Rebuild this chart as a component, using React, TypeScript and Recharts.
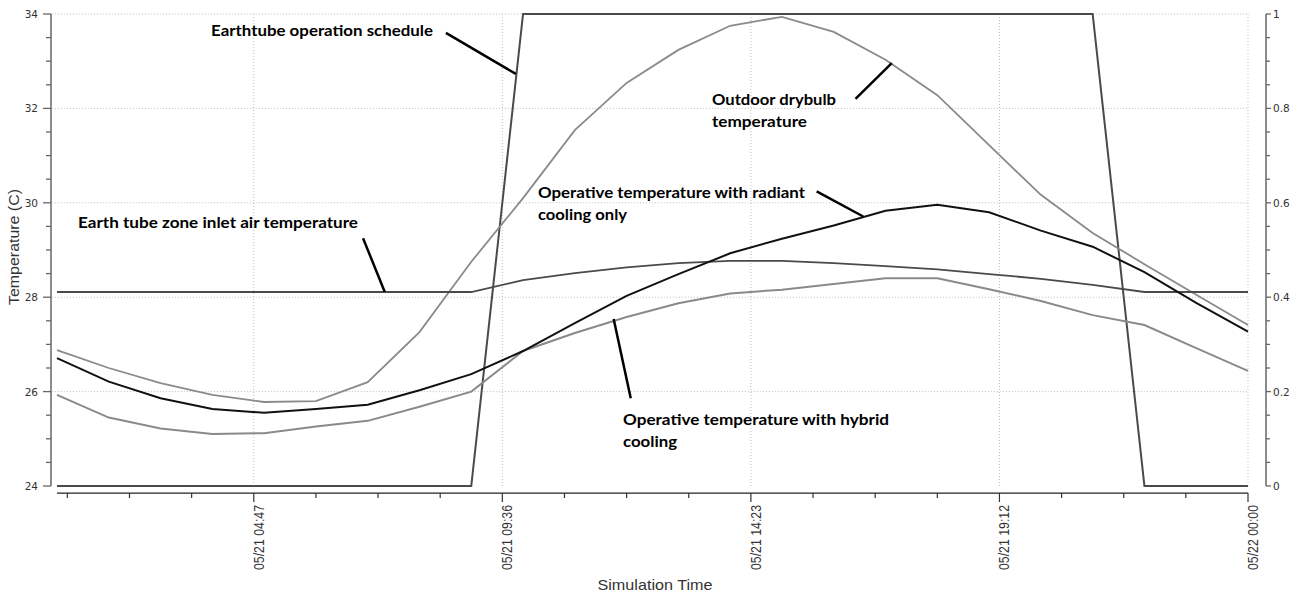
import React from "react";
import { LineChart, Line, XAxis, YAxis, ReferenceLine } from "recharts";

// hourly values, 05/21 01:00 .. 05/22 00:00
const hours = [1, 2, 3, 4, 5, 6, 7, 8, 9, 10, 11, 12, 13, 14, 15, 16, 17, 18, 19, 20, 21, 22, 23, 24];
const outdoorDrybulb = [26.88, 26.5, 26.18, 25.93, 25.78, 25.8, 26.2, 27.26, 28.75, 30.1, 31.54, 32.54, 33.24, 33.75, 33.94, 33.62, 33.03, 32.28, 31.22, 30.17, 29.36, 28.7, 28.05, 27.41];
const radiantOnly = [26.71, 26.21, 25.86, 25.63, 25.55, 25.63, 25.72, 26.03, 26.37, 26.86, 27.45, 28.03, 28.49, 28.93, 29.24, 29.52, 29.83, 29.96, 29.8, 29.41, 29.07, 28.53, 27.88, 27.27];
const hybridCooling = [25.93, 25.45, 25.22, 25.1, 25.12, 25.26, 25.38, 25.68, 26.0, 26.86, 27.24, 27.58, 27.87, 28.08, 28.16, 28.28, 28.4, 28.4, 28.17, 27.92, 27.62, 27.41, 26.92, 26.44];
const inletAir = [28.11, 28.11, 28.11, 28.11, 28.11, 28.11, 28.11, 28.11, 28.11, 28.36, 28.51, 28.63, 28.72, 28.77, 28.77, 28.72, 28.66, 28.59, 28.49, 28.39, 28.26, 28.11, 28.11, 28.11];
const earthtubeSchedule = [0, 0, 0, 0, 0, 0, 0, 0, 0, 1, 1, 1, 1, 1, 1, 1, 1, 1, 1, 1, 1, 0, 0, 0];

const xTicks = [1.2, 2.4, 3.6, 4.8, 6, 7.2, 8.4, 9.6, 10.8, 12, 13.2, 14.4, 15.6, 16.8, 18, 19.2, 20.4, 21.6, 22.8, 24];
const xMajor = [4.8, 9.6, 14.4, 19.2, 24];
const xLabels = ["05/21 04:47", "05/21 09:36", "05/21 14:23", "05/21 19:12", "05/22 00:00"];
const tempTicks = [24, 24.5, 25, 25.5, 26, 26.5, 27, 27.5, 28, 28.5, 29, 29.5, 30, 30.5, 31, 31.5, 32, 32.5, 33, 33.5, 34];
const tempMajor = [24, 26, 28, 30, 32, 34];
const schedTicks = [0, 0.05, 0.1, 0.15, 0.2, 0.25, 0.3, 0.35, 0.4, 0.45, 0.5, 0.55, 0.6, 0.65, 0.7, 0.75, 0.8, 0.85, 0.9, 0.95, 1];
const schedMajor = [0, 0.2, 0.4, 0.6, 0.8, 1];

const annotations = [
  { lines: ["Earthtube operation schedule"], widths: [222], x: 211, y: 36 },
  { lines: ["Outdoor drybulb", "temperature"], widths: [124, 95], x: 712, y: 105 },
  { lines: ["Operative temperature with radiant", "cooling only"], widths: [267, 89], x: 538, y: 198 },
  { lines: ["Earth tube zone inlet air temperature"], widths: [280], x: 78, y: 228 },
  { lines: ["Operative temperature with hybrid", "cooling"], widths: [266, 54], x: 623, y: 425 },
];
// pointer segments, in (hour, temperature)
const pointers = [
  [{ x: 8.51, y: 33.6 }, { x: 9.86, y: 32.73 }],
  [{ x: 16.42, y: 32.2 }, { x: 17.12, y: 32.96 }],
  [{ x: 15.67, y: 30.24 }, { x: 16.57, y: 29.71 }],
  [{ x: 6.91, y: 29.25 }, { x: 7.33, y: 28.11 }],
  [{ x: 11.75, y: 27.54 }, { x: 12.08, y: 25.86 }],
];
const AXIS_Y = 23.85;

const data = hours.map((h, i) => ({
  h,
  outdoor: outdoorDrybulb[i],
  radiant: radiantOnly[i],
  hybrid: hybridCooling[i],
  inlet: inletAir[i],
  schedule: earthtubeSchedule[i],
}));

const near = (a: number, b: number) => Math.abs(a - b) < 1e-6;
const tickFont = "'DejaVu Sans', sans-serif";
const axisFont = "'Liberation Sans Narrow', 'Arial Narrow', 'Liberation Sans', Arial, sans-serif";

const LeftTick = ({ x, y, payload }: any) => {
  const major = tempMajor.some((v) => near(v, payload.value));
  return (
    <g>
      <line x1={x} x2={x - (major ? 8 : 5)} y1={y} y2={y} stroke="#666" strokeWidth={1.3} />
      {major && (
        <text x={x - 13} y={y + 4} textAnchor="end" fontFamily={tickFont} fontSize={10.5} fill="#333">
          {payload.value}
        </text>
      )}
    </g>
  );
};

const RightTick = ({ x, y, payload }: any) => {
  const major = schedMajor.some((v) => near(v, payload.value));
  return (
    <g>
      <line x1={x} x2={x + (major ? 5 : 4)} y1={y} y2={y} stroke="#666" strokeWidth={1.3} />
      {major && (
        <text x={x + 7} y={y + 4} textAnchor="start" fontFamily={tickFont} fontSize={10.5} fill="#333">
          {payload.value}
        </text>
      )}
    </g>
  );
};

const BottomTick = ({ x, y, payload }: any) => {
  const idx = xMajor.findIndex((v) => near(v, payload.value));
  const major = idx >= 0;
  return (
    <g>
      <line x1={x} x2={x} y1={y + 7} y2={y + 7 + (major ? 9 : 5)} stroke="#333" strokeWidth={1.2} />
      {major && (
        <text
          x={x + 10}
          y={y + 19}
          transform={`rotate(-90, ${x + 10}, ${y + 19})`}
          textAnchor="end"
          fontFamily={axisFont}
          fontSize={14}
          textLength={65}
          lengthAdjust="spacingAndGlyphs"
          fill="#333"
        >
          {xLabels[idx]}
        </text>
      )}
    </g>
  );
};

export default function App() {
  return (
    <div style={{ position: "absolute", left: 0, top: 0, width: 1300, height: 595, background: "#fff" }}>
      <LineChart width={1300} height={595} data={data} margin={{ top: 14, right: 0, bottom: 0, left: 0 }}>
        <XAxis
          dataKey="h"
          type="number"
          domain={[1, 24]}
          ticks={xTicks}
          interval={0}
          padding={{ left: 6, right: 18 }}
          height={109}
          axisLine={false}
          tickLine={false}
          tickSize={0}
          tickMargin={0}
          tick={(p: any) => <BottomTick {...p} />}
        />
        <YAxis
          yAxisId="left"
          orientation="left"
          width={51}
          domain={[24, 34]}
          ticks={tempTicks}
          interval={0}
          tickLine={false}
          tickSize={0}
          tickMargin={0}
          axisLine={{ stroke: "#666", strokeWidth: 1.5 }}
          tick={(p: any) => <LeftTick {...p} />}
        />
        <YAxis
          yAxisId="right"
          orientation="right"
          width={34}
          domain={[0, 1]}
          ticks={schedTicks}
          interval={0}
          tickLine={false}
          tickSize={0}
          tickMargin={0}
          axisLine={{ stroke: "#666", strokeWidth: 1.5 }}
          tick={(p: any) => <RightTick {...p} />}
        />
        {tempMajor.slice(1).map((v) => (
          <ReferenceLine
            key={`gy${v}`}
            yAxisId="left"
            ifOverflow="visible"
            segment={[{ x: 0.9, y: v }, { x: 24, y: v }]}
            stroke="#bdbdbd"
            strokeDasharray="1 2"
          />
        ))}
        {xMajor.map((v) => (
          <ReferenceLine key={`gx${v}`} yAxisId="left" x={v} stroke="#bdbdbd" strokeDasharray="1 2" />
        ))}
        <ReferenceLine
          yAxisId="left"
          ifOverflow="visible"
          segment={[{ x: 1, y: AXIS_Y }, { x: 24, y: AXIS_Y }]}
          stroke="#222"
          strokeWidth={1.2}
        />
        <Line yAxisId="right" dataKey="schedule" type="linear" stroke="#4a4a4a" strokeWidth={2} dot={false} isAnimationActive={false} />
        <Line yAxisId="left" dataKey="outdoor" type="linear" stroke="#8a8a8a" strokeWidth={1.8} dot={false} isAnimationActive={false} />
        <Line yAxisId="left" dataKey="hybrid" type="linear" stroke="#8a8a8a" strokeWidth={2} dot={false} isAnimationActive={false} />
        <Line yAxisId="left" dataKey="inlet" type="linear" stroke="#4a4a4a" strokeWidth={1.8} dot={false} isAnimationActive={false} />
        <Line yAxisId="left" dataKey="radiant" type="linear" stroke="#111" strokeWidth={2} dot={false} isAnimationActive={false} />
        {pointers.map((seg, i) => (
          <ReferenceLine key={`p${i}`} yAxisId="left" ifOverflow="visible" segment={seg} stroke="#000" strokeWidth={2.5} />
        ))}
      </LineChart>
      <svg width={1300} height={595} style={{ position: "absolute", left: 0, top: 0, pointerEvents: "none" }}>
        {annotations.map((a, i) =>
          a.lines.map((t, j) => (
            <text
              key={`${i}-${j}`}
              x={a.x}
              y={a.y + j * 22}
              fontFamily="Lato, sans-serif"
              fontWeight={700}
              fontSize={16}
              textLength={a.widths[j]}
              lengthAdjust="spacingAndGlyphs"
              fill="#000"
            >
              {t}
            </text>
          ))
        )}
        <text
          x={19}
          y={247}
          transform="rotate(-90, 19, 247)"
          textAnchor="middle"
          fontFamily={axisFont}
          fontSize={15}
          textLength={116}
          lengthAdjust="spacingAndGlyphs"
          fill="#333"
        >
          Temperature (C)
        </text>
        <text
          x={655}
          y={590}
          textAnchor="middle"
          fontFamily={axisFont}
          fontSize={15}
          textLength={115}
          lengthAdjust="spacingAndGlyphs"
          fill="#333"
        >
          Simulation Time
        </text>
      </svg>
    </div>
  );
}
